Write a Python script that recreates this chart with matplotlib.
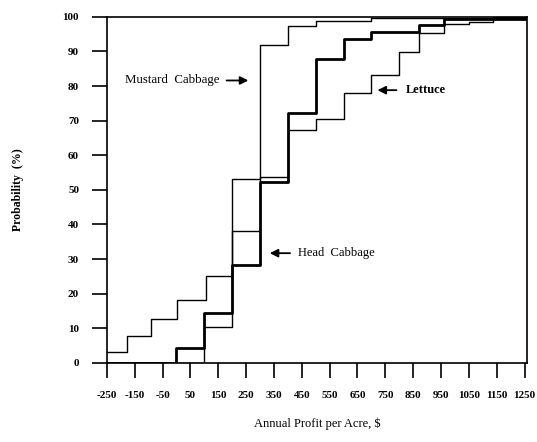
import numpy as np
import matplotlib
matplotlib.use('Agg')
import matplotlib.pyplot as plt

plt.rcParams['font.family'] = ['Liberation Serif', 'DejaVu Serif']
plt.rcParams['axes.unicode_minus'] = False

# 累积概率分布数据 (阶梯图, where='post')
lettuce_x = [-250, -178, -92, 2, 106, 200, 300, 400, 500, 600, 700, 800, 870, 960, 1050, 1135, 1260]
lettuce_y = [3.0, 7.8, 12.8, 18.3, 25.0, 38.2, 53.8, 67.3, 70.6, 78.0, 83.2, 89.9, 95.2, 97.8, 98.6, 100, 100]

mustard_x = [-250, 100, 200, 300, 400, 500, 700, 1260]
mustard_y = [0, 10.4, 53.0, 91.8, 97.4, 98.8, 99.6, 99.6]

head_x = [-250, 0, 100, 200, 300, 400, 500, 600, 700, 870, 960, 1260]
head_y = [0, 4.4, 14.3, 28.3, 52.3, 72.1, 87.8, 93.7, 95.7, 97.7, 99.5, 99.5]

xticks = [-250, -150, -50, 50, 150, 250, 350, 450, 550, 650, 750, 850, 950, 1050, 1150, 1250]
yticks = [0, 10, 20, 30, 40, 50, 60, 70, 80, 90, 100]

fig = plt.figure(figsize=(5.37, 4.42), dpi=100)
ax = fig.add_axes([0.199, 0.179, 0.783, 0.783])

ax.step(lettuce_x, lettuce_y, where='post', color='black', lw=1.0)
ax.step(mustard_x, mustard_y, where='post', color='black', lw=1.0)
ax.step(head_x, head_y, where='post', color='black', lw=2.0)

ax.set_xlim(-250, 1260)
ax.set_ylim(0, 100)
ax.set_xticks(xticks)
ax.set_yticks(yticks)
ax.tick_params(direction='out', length=11, width=1.2, pad=9, labelsize=8)
for lab in ax.get_xticklabels() + ax.get_yticklabels():
    lab.set_fontweight('bold')
for s in ax.spines.values():
    s.set_linewidth(1.2)

ax.set_xlabel('Annual Profit per Acre, $', fontsize=9, labelpad=13)
ax.set_ylabel('Probability  (%)', fontsize=8.5, labelpad=28, fontweight='bold')

# 标注和箭头
arrow = dict(arrowstyle='-|>', color='black', lw=1.3, mutation_scale=12)
ax.text(-184, 81.6, 'Mustard  Cabbage', fontsize=9.3, va='center', ha='left')
ax.annotate('', xy=(268, 81.6), xytext=(170, 81.6), arrowprops=arrow)

ax.text(823, 78.8, 'Lettuce', fontsize=9, va='center', ha='left', fontweight='bold')
ax.annotate('', xy=(712, 78.8), xytext=(800, 78.8), arrowprops=arrow)

ax.text(438, 31.7, 'Head  Cabbage', fontsize=9, va='center', ha='left')
ax.annotate('', xy=(325, 31.7), xytext=(418, 31.7), arrowprops=arrow)

plt.savefig('out.png', dpi=100)
